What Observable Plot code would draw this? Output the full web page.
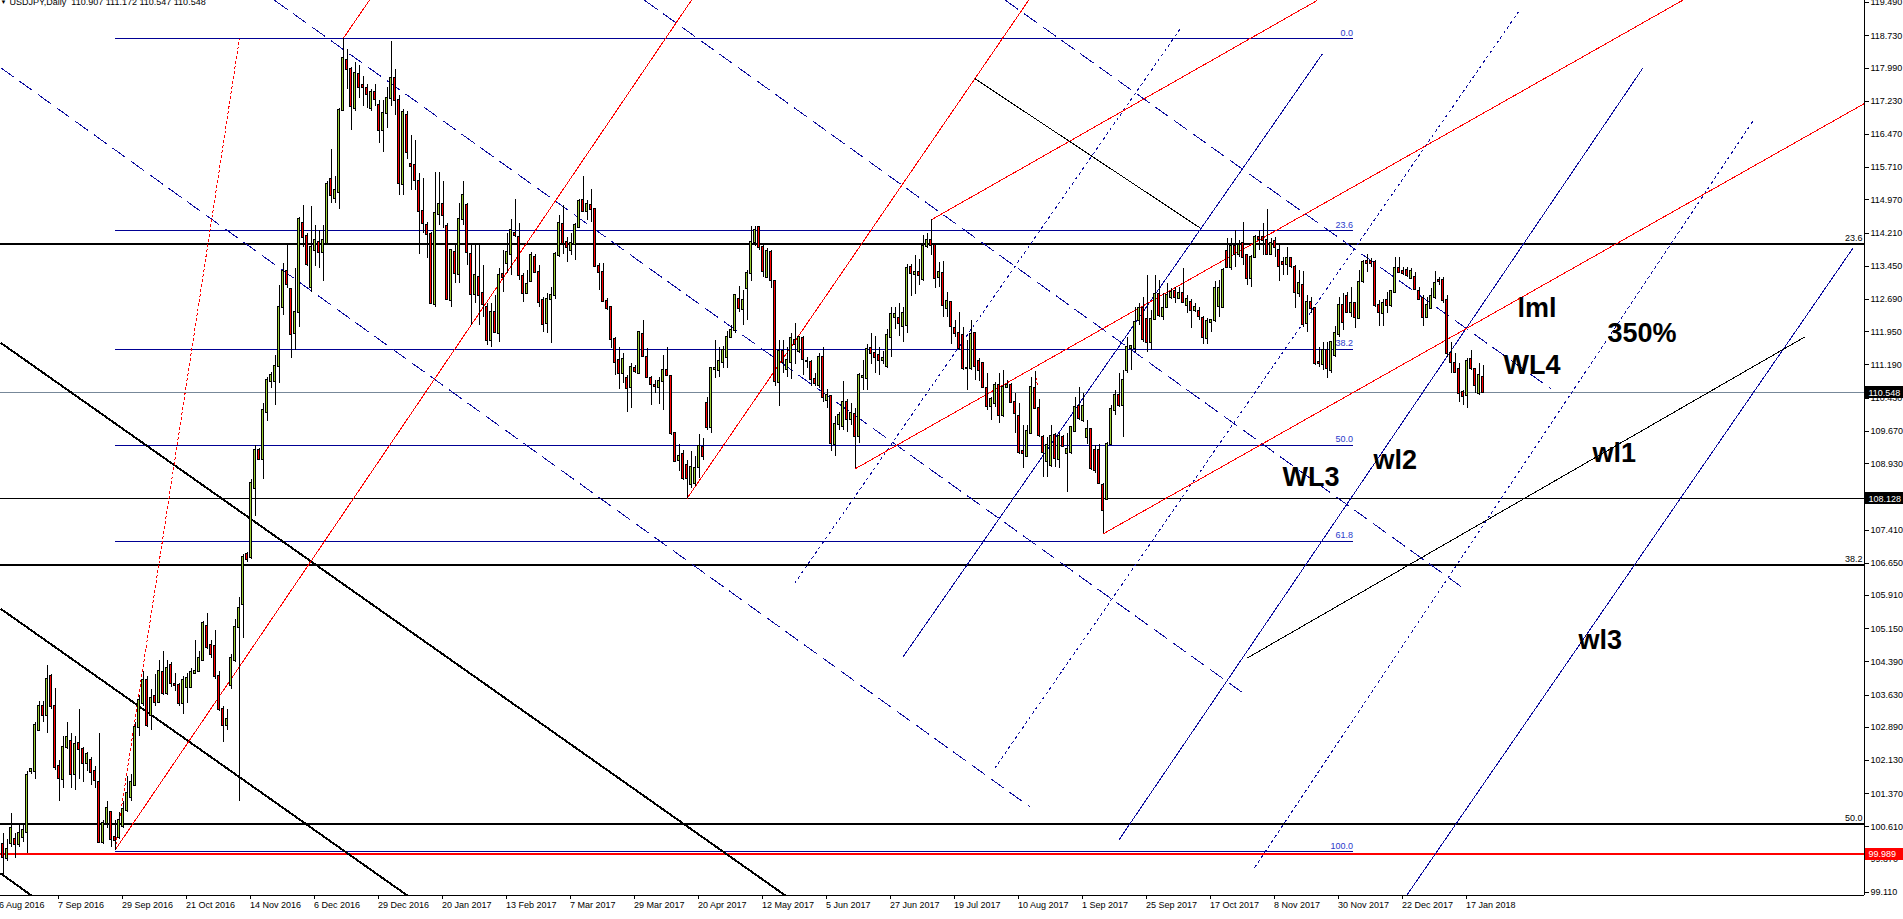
<!DOCTYPE html>
<html>
<head>
<meta charset="utf-8">
<title>USDJPY, Daily</title>
<script src="https://cdn.jsdelivr.net/npm/d3@7"></script>
<script src="https://cdn.jsdelivr.net/npm/@observablehq/plot@0.6"></script>
<style>
  html, body { margin: 0; padding: 0; background: #fff; overflow: hidden; }
  #chart svg { display: block; }
</style>
</head>
<body>
<div id="chart"></div>
<script>
// USDJPY daily candles, bar 0 = 16 Aug 2016 ... bar 370 = last bar
const opens = [
  100.20, 99.89, 100.24, 100.32, 100.20, 100.36, 100.49, 101.89, 101.88, 102.82,
  103.37, 103.16, 104.05, 103.37, 102.00, 101.69, 102.44, 102.57, 101.82, 102.53,
  102.38, 102.07, 102.13, 101.88, 101.63, 100.26, 100.70, 100.95, 100.38, 100.38,
  100.61, 100.98, 101.29, 101.57, 102.88, 103.43, 103.96, 103.16, 103.59, 103.46,
  104.15, 103.66, 104.30, 103.87, 103.84, 103.43, 103.81, 103.81, 104.12, 104.18,
  104.43, 105.20, 104.77, 104.74, 104.05, 103.31, 102.94, 103.84, 104.43, 105.18,
  105.71, 106.85, 106.77, 108.35, 109.22, 109.03, 110.09, 110.80, 110.80, 111.15,
  112.51, 113.32, 112.91, 111.92, 112.39, 114.44, 114.13, 112.97, 113.82, 114.00,
  113.76, 113.98, 115.44, 115.00, 115.15, 117.02, 118.17, 117.96, 117.06, 117.84,
  117.58, 117.52, 117.06, 117.43, 117.14, 116.56, 116.95, 117.30, 117.75, 117.25,
  115.32, 116.90, 115.78, 115.76, 115.38, 114.71, 114.38, 114.17, 112.57, 114.63,
  114.86, 114.36, 112.67, 113.76, 113.26, 114.52, 114.84, 113.73, 112.80, 113.20,
  112.82, 112.51, 111.75, 112.38, 111.90, 113.26, 113.52, 113.73, 114.21, 114.11,
  113.22, 112.82, 113.09, 113.64, 113.30, 112.67, 112.13, 112.68, 112.77, 113.70,
  114.40, 114.00, 113.81, 113.95, 114.34, 114.95, 114.71, 114.84, 114.74, 113.45,
  113.30, 112.64, 112.51, 111.77, 111.29, 110.99, 110.88, 110.67, 111.11, 111.00,
  111.89, 111.37, 110.89, 110.72, 110.68, 110.80, 111.06, 110.93, 109.61, 109.00,
  109.14, 108.89, 108.45, 108.47, 108.85, 109.31, 110.30, 109.75, 111.08, 111.06,
  111.25, 111.37, 111.83, 111.98, 112.70, 112.45, 112.93, 113.28, 114.00, 114.33,
  113.88, 113.20, 113.77, 113.10, 110.78, 111.50, 111.08, 111.25, 111.75, 111.50,
  111.79, 111.27, 111.25, 110.85, 110.72, 111.37, 110.37, 110.47, 109.38, 109.83,
  109.78, 110.33, 109.93, 110.05, 109.55, 110.90, 110.88, 111.56, 111.45, 111.40,
  111.30, 111.15, 111.83, 112.28, 112.25, 112.08, 112.10, 113.43, 113.26, 113.30,
  113.14, 113.90, 114.04, 113.93, 113.20, 113.28, 112.48, 112.61, 112.02, 111.92,
  111.86, 111.12, 111.10, 111.90, 111.28, 111.22, 110.64, 110.25, 110.30, 110.72,
  110.03, 110.68, 110.73, 110.32, 110.01, 109.20, 109.10, 109.63, 110.64, 110.19,
  109.54, 108.99, 108.89, 109.57, 109.02, 109.54, 109.17, 109.18, 109.67, 110.25,
  109.92, 109.54, 109.71, 109.23, 109.23, 108.43, 108.12, 109.37, 110.15, 110.49,
  110.26, 111.06, 111.56, 111.56, 112.21, 112.48, 112.23, 111.70, 112.22, 112.80,
  112.31, 112.51, 112.74, 112.88, 112.72, 112.82, 112.55, 112.61, 112.44, 112.42,
  112.25, 111.79, 112.17, 112.21, 112.53, 112.51, 113.79, 113.43, 113.90, 113.71,
  113.98, 113.70, 113.16, 113.64, 114.12, 114.12, 114.04, 113.72, 114.02, 113.81,
  113.54, 113.49, 113.63, 113.43, 112.82, 113.01, 112.13, 112.63, 112.48, 111.25,
  111.20, 111.51, 111.06, 111.41, 111.88, 112.55, 112.76, 112.40, 112.59, 112.26,
  113.09, 113.56, 113.56, 113.54, 112.55, 112.36, 112.67, 112.55, 112.86, 113.40,
  113.33, 113.35, 113.18, 113.20, 112.87, 112.72, 112.28, 112.48, 112.74, 113.13,
  113.13, 112.67, 111.45, 111.23, 111.08, 110.55, 110.49, 111.31, 111.08, 110.53,
  110.907
];
const highs = [
  100.47, 100.32, 100.91, 100.45, 100.64, 100.67, 101.88, 101.95, 103.00, 103.49,
  103.49, 104.30, 104.10, 103.78, 102.13, 102.69, 103.00, 102.75, 102.69, 103.31,
  102.44, 102.32, 102.19, 102.00, 102.75, 100.76, 101.20, 100.97, 100.76, 100.95,
  101.20, 101.76, 101.82, 103.00, 103.62, 104.18, 104.05, 103.75, 104.10, 104.43,
  104.62, 104.43, 104.37, 104.12, 103.90, 104.05, 104.12, 104.24, 104.87, 104.62,
  105.32, 105.49, 104.87, 105.12, 104.18, 103.37, 103.31, 104.55, 105.36, 105.86,
  106.85, 106.90, 108.56, 109.34, 109.28, 110.30, 110.90, 111.02, 111.40, 113.00,
  113.51, 113.95, 112.95, 113.39, 114.57, 114.85, 114.20, 114.82, 114.38, 114.26,
  114.38, 115.38, 116.12, 115.50, 117.06, 118.66, 118.42, 118.01, 118.11, 118.05,
  117.80, 117.62, 117.49, 117.62, 117.24, 117.25, 117.55, 118.60, 117.95, 117.35,
  117.05, 117.00, 116.45, 116.33, 115.57, 115.45, 114.46, 114.23, 115.60, 115.60,
  115.38, 114.42, 113.81, 113.96, 114.88, 115.38, 114.88, 113.98, 113.96, 113.96,
  113.47, 112.59, 112.59, 112.78, 113.39, 113.81, 114.19, 114.52, 114.97, 114.42,
  113.28, 113.35, 113.77, 113.73, 113.47, 112.74, 112.82, 112.97, 113.77, 114.61,
  114.84, 114.12, 114.19, 114.42, 114.97, 115.51, 114.95, 115.20, 114.77, 113.51,
  113.51, 112.71, 112.51, 111.81, 111.58, 111.45, 110.95, 111.22, 111.17, 111.94,
  112.21, 111.56, 110.93, 110.84, 110.91, 111.41, 111.60, 110.95, 109.65, 109.38,
  109.23, 109.00, 109.20, 109.10, 109.60, 109.50, 110.45, 111.14, 111.76, 111.60,
  111.62, 111.95, 112.10, 112.80, 112.98, 112.90, 113.35, 114.37, 114.37, 114.37,
  113.95, 113.85, 113.80, 113.10, 111.75, 111.75, 111.60, 111.90, 112.13, 111.85,
  111.85, 111.37, 111.30, 111.00, 111.45, 111.60, 110.62, 110.50, 110.00, 110.10,
  110.80, 110.40, 110.30, 110.20, 111.00, 111.30, 111.65, 111.90, 111.85, 111.60,
  111.50, 112.00, 112.50, 112.50, 112.60, 112.50, 113.48, 113.48, 113.70, 113.60,
  114.15, 114.20, 114.51, 113.96, 113.54, 113.57, 112.86, 112.63, 112.21, 112.40,
  112.05, 111.75, 112.21, 111.94, 111.33, 111.25, 110.99, 110.45, 110.79, 110.99,
  111.06, 110.83, 110.76, 110.53, 110.30, 109.80, 109.80, 110.91, 111.03, 110.41,
  109.57, 109.53, 109.80, 109.61, 109.61, 109.57, 109.61, 109.78, 110.45, 110.68,
  110.53, 109.92, 109.73, 109.35, 109.38, 108.47, 109.42, 110.26, 110.60, 110.99,
  111.06, 111.83, 111.64, 112.51, 112.60, 112.74, 113.24, 112.44, 113.24, 113.12,
  112.82, 113.05, 112.93, 112.97, 112.97, 113.39, 112.78, 112.70, 112.59, 112.51,
  112.29, 112.25, 112.23, 113.09, 113.13, 113.39, 114.08, 114.08, 114.27, 114.04,
  114.46, 113.73, 113.70, 114.15, 114.27, 114.42, 114.74, 114.08, 114.12, 113.93,
  113.66, 113.89, 113.66, 113.47, 113.35, 113.32, 112.78, 112.74, 112.51, 111.60,
  111.71, 111.71, 111.71, 112.06, 112.74, 112.82, 112.86, 112.97, 112.63, 113.35,
  113.58, 113.73, 113.62, 113.58, 112.67, 112.70, 112.86, 112.90, 113.66, 113.66,
  113.43, 113.43, 113.39, 113.31, 112.97, 112.78, 112.74, 112.93, 113.32, 113.20,
  113.20, 112.78, 111.71, 111.45, 111.22, 110.61, 111.33, 111.52, 111.10, 111.22,
  111.172
];
const lows = [
  99.52, 99.83, 100.14, 99.89, 100.14, 100.26, 100.01, 101.82, 101.70, 102.80,
  103.00, 102.75, 103.30, 101.90, 101.19, 101.50, 102.38, 101.50, 101.44, 101.69,
  101.63, 101.88, 101.57, 101.50, 100.24, 100.20, 100.57, 100.14, 100.08, 100.32,
  100.57, 100.95, 101.20, 101.53, 102.69, 103.37, 102.88, 102.82, 103.37, 103.43,
  103.62, 103.62, 103.80, 103.71, 103.37, 103.18, 103.43, 103.78, 104.10, 104.18,
  104.40, 104.68, 104.46, 103.99, 103.25, 102.54, 102.82, 103.75, 104.37, 101.19,
  104.93, 106.67, 106.73, 107.73, 109.00, 108.56, 109.90, 110.65, 110.27, 110.77,
  112.33, 112.95, 111.33, 111.52, 112.04, 113.88, 113.45, 112.85, 113.45, 113.39,
  113.11, 113.95, 114.88, 114.88, 114.75, 117.00, 117.49, 116.56, 116.99, 117.30,
  117.12, 117.06, 116.99, 117.12, 116.25, 116.05, 116.60, 117.10, 116.90, 115.07,
  115.07, 115.90, 115.18, 115.18, 113.73, 114.19, 113.62, 112.59, 112.51, 114.38,
  114.31, 112.67, 112.51, 113.05, 113.05, 114.38, 113.47, 112.09, 112.60, 112.09,
  112.28, 111.64, 111.60, 111.90, 111.71, 112.86, 113.28, 113.24, 114.12, 113.13,
  112.61, 112.82, 113.09, 113.28, 112.51, 111.94, 111.92, 111.69, 112.70, 113.66,
  113.73, 113.54, 113.70, 113.58, 114.31, 114.69, 114.50, 114.46, 113.43, 112.90,
  112.63, 112.44, 111.56, 110.95, 110.62, 110.76, 110.11, 110.19, 110.99, 110.99,
  111.37, 110.87, 110.26, 110.53, 110.28, 110.15, 110.93, 109.58, 108.96, 108.74,
  108.54, 108.13, 108.35, 108.40, 108.60, 109.00, 109.69, 109.61, 110.87, 110.90,
  111.10, 111.10, 111.80, 111.90, 112.40, 112.10, 112.20, 113.10, 113.90, 113.80,
  113.20, 113.18, 112.93, 110.70, 110.23, 111.00, 110.90, 110.85, 111.20, 111.45,
  110.95, 111.10, 110.70, 110.70, 110.65, 110.34, 110.20, 109.20, 109.10, 109.70,
  109.70, 109.65, 109.80, 108.81, 109.40, 110.60, 110.60, 111.20, 111.00, 110.95,
  111.20, 111.10, 111.35, 112.00, 111.85, 111.70, 111.90, 112.75, 112.80, 113.00,
  113.09, 113.85, 113.70, 112.93, 112.97, 112.28, 112.28, 111.67, 111.83, 111.52,
  111.06, 110.61, 111.06, 110.83, 110.80, 110.66, 110.15, 109.92, 110.22, 109.84,
  109.99, 110.64, 110.30, 109.61, 109.15, 108.81, 109.08, 109.61, 110.17, 109.54,
  108.62, 108.62, 108.85, 108.85, 108.81, 109.31, 108.28, 109.15, 109.65, 109.92,
  109.88, 109.38, 108.77, 108.70, 108.45, 107.32, 108.10, 109.35, 110.03, 110.22,
  109.54, 110.99, 111.06, 111.48, 112.10, 111.71, 111.48, 111.51, 112.21, 112.28,
  112.21, 112.48, 112.68, 112.59, 112.70, 112.59, 112.36, 112.02, 112.40, 112.21,
  111.67, 111.66, 111.94, 112.17, 112.28, 112.48, 113.39, 113.35, 113.43, 113.66,
  113.47, 113.01, 112.97, 113.62, 113.81, 113.70, 113.70, 113.70, 113.66, 113.09,
  113.24, 113.24, 113.39, 112.48, 112.74, 112.05, 111.94, 112.36, 111.18, 111.14,
  111.06, 110.87, 110.99, 111.37, 111.83, 111.98, 112.36, 112.28, 112.02, 112.25,
  113.05, 113.31, 113.43, 112.51, 112.06, 112.06, 112.36, 112.51, 112.82, 113.28,
  113.24, 113.20, 113.16, 112.90, 112.67, 112.06, 112.25, 112.48, 112.70, 113.01,
  112.59, 111.37, 110.99, 110.99, 110.33, 110.26, 110.19, 111.06, 110.53, 110.49,
  110.547
];
const closes = [
  99.90, 100.10, 100.58, 100.20, 100.45, 100.54, 101.79, 101.93, 102.94, 103.37,
  103.16, 103.99, 103.37, 101.97, 101.72, 102.44, 102.65, 101.82, 102.50, 102.38,
  102.07, 102.28, 101.86, 101.67, 100.26, 100.70, 101.03, 100.32, 100.30, 100.76,
  101.01, 101.38, 101.63, 102.88, 103.50, 103.96, 102.94, 103.56, 103.46, 104.18,
  103.66, 104.23, 103.90, 103.84, 103.43, 103.96, 104.02, 104.15, 104.18, 104.46,
  105.27, 104.71, 104.55, 104.05, 103.31, 102.94, 103.06, 104.46, 105.18, 105.61,
  106.79, 106.73, 108.47, 109.22, 109.03, 110.15, 110.83, 110.96, 111.15, 112.51,
  113.32, 113.04, 111.89, 112.39, 114.51, 114.11, 113.49, 113.88, 114.03, 113.76,
  114.03, 115.32, 115.07, 115.19, 117.02, 118.20, 117.96, 117.12, 117.86, 117.55,
  117.55, 117.39, 117.43, 117.28, 116.56, 116.95, 117.30, 117.75, 117.25, 115.34,
  116.96, 116.06, 115.74, 115.41, 114.71, 114.42, 114.17, 112.60, 114.65, 114.86,
  114.61, 112.70, 113.81, 113.28, 114.52, 115.07, 113.77, 112.80, 113.25, 112.78,
  112.57, 111.75, 112.38, 111.94, 113.24, 113.20, 113.76, 114.27, 114.16, 113.24,
  112.82, 113.03, 113.69, 113.31, 112.63, 112.11, 112.70, 112.77, 113.73, 114.42,
  113.98, 113.89, 113.98, 114.38, 114.93, 114.71, 114.86, 114.74, 113.45, 113.30,
  112.64, 112.48, 111.77, 111.25, 110.99, 111.31, 110.65, 111.13, 111.03, 111.94,
  111.39, 110.91, 110.74, 110.69, 110.82, 111.06, 110.94, 109.61, 108.99, 109.09,
  108.58, 108.58, 108.85, 108.81, 109.32, 109.10, 109.75, 111.10, 111.12, 111.27,
  111.52, 111.83, 111.99, 112.78, 112.48, 112.66, 113.28, 114.00, 114.28, 113.88,
  113.34, 113.78, 113.12, 110.80, 111.50, 111.25, 111.29, 111.79, 111.67, 111.83,
  111.31, 111.27, 110.85, 110.76, 111.37, 110.45, 110.49, 109.40, 109.83, 110.03,
  110.33, 109.93, 110.08, 109.55, 110.95, 110.92, 111.55, 111.45, 111.37, 111.29,
  111.33, 111.86, 112.35, 112.34, 112.15, 112.36, 113.41, 113.28, 113.30, 113.25,
  113.90, 114.04, 113.93, 113.16, 113.30, 112.55, 112.64, 112.06, 111.92, 111.56,
  111.12, 111.10, 111.89, 111.15, 111.06, 110.68, 110.24, 110.41, 110.73, 110.03,
  110.68, 110.73, 110.32, 110.07, 109.19, 109.17, 109.67, 110.67, 110.19, 109.57,
  109.19, 109.35, 109.55, 109.04, 109.56, 109.32, 109.25, 109.76, 110.22, 109.97,
  110.25, 109.71, 108.81, 108.77, 108.47, 107.86, 109.38, 110.16, 110.49, 110.26,
  110.83, 111.60, 111.62, 112.17, 112.48, 111.77, 111.70, 112.23, 112.80, 112.32,
  112.48, 112.78, 112.86, 112.74, 112.82, 112.61, 112.68, 112.44, 112.51, 112.29,
  111.83, 112.19, 112.21, 112.93, 112.93, 113.35, 113.43, 113.90, 113.72, 113.93,
  113.66, 113.16, 113.64, 114.12, 114.06, 114.05, 113.72, 113.98, 113.87, 113.44,
  113.49, 113.63, 113.45, 112.86, 113.05, 112.11, 112.63, 112.48, 111.22, 111.22,
  111.51, 111.10, 111.71, 111.92, 112.55, 112.17, 112.40, 112.59, 112.28, 113.07,
  113.54, 113.52, 113.52, 112.55, 112.40, 112.59, 112.55, 112.87, 113.39, 113.31,
  113.28, 113.24, 113.33, 112.91, 112.70, 112.28, 112.55, 112.76, 113.05, 113.09,
  112.67, 111.45, 111.25, 111.01, 110.54, 110.47, 111.28, 111.10, 110.72, 110.95,
  110.548
];

// time axis: one label every 16 bars
const tickBars = [-2.5, 13.5, 29.5, 45.5, 61.5, 77.5, 93.5, 109.5, 125.5, 141.5, 157.5, 173.5,
  189.5, 205.5, 221.5, 237.5, 253.5, 269.5, 285.5, 301.5, 317.5, 333.5, 349.5, 365.5];
const tickDates = ["16 Aug 2016", "7 Sep 2016", "29 Sep 2016", "21 Oct 2016", "14 Nov 2016", "6 Dec 2016",
  "29 Dec 2016", "20 Jan 2017", "13 Feb 2017", "7 Mar 2017", "29 Mar 2017", "20 Apr 2017",
  "12 May 2017", "5 Jun 2017", "27 Jun 2017", "19 Jul 2017", "10 Aug 2017", "1 Sep 2017",
  "25 Sep 2017", "17 Oct 2017", "8 Nov 2017", "30 Nov 2017", "22 Dec 2017", "17 Jan 2018"];

// price axis
const priceTicks = [119.49, 118.73, 117.99, 117.23, 116.47, 115.71, 114.97, 114.21, 113.45, 112.69,
  111.95, 111.19, 110.43, 109.67, 108.93, 108.17, 107.41, 106.65, 105.91, 105.15, 104.39,
  103.63, 102.89, 102.13, 101.37, 100.61, 99.87, 99.11];
const xDomain = [-0.625, 465.375];
const yDomain = [99.041, 119.536];

// horizontal levels
const bidPrice = 110.548;
const supportLevel = 108.128;
const redLevel = 99.989;

// blue fibonacci (Sep 2016 low -> Dec 2016 high), drawn from bar 28 to bar 337.5
const fibLevels = [0, 23.6, 38.2, 50, 61.8, 100];
const fibTop = 118.66, fibBottom = 100.04;
const fibBars = [28, 337.5];

// long-term fibonacci (black), levels in view
const bigFibLevels = [23.6, 38.2, 50];
const bigFibTop = 125.82, bigFibBottom = 75.55;

// trend lines as [bar1, price1, bar2, price2]
const blueSolid = [
  [224.9, 104.49, 329.9, 118.32],
  [278.9, 100.30, 409.9, 117.98],
  [350.9, 99.04, 462.6, 113.88]
];
const blueDotted = [
  [312.9, 99.68, 437.6, 116.79],
  [247.9, 101.95, 378.9, 119.28],
  [197.9, 106.19, 294.4, 118.90]
];
const blueDashed = [
  [-0.625, 118.00, 256.9, 101.06],
  [67.9, 119.54, 310.9, 103.62],
  [160.4, 119.54, 364.9, 106.09],
  [250.6, 119.54, 386.9, 110.65]
];
const redSolid = [
  [28, 100.08, 172.1, 119.54],
  [85, 118.66, 91.6, 119.54],
  [171, 108.13, 256.4, 119.54],
  [213, 108.81, 419.9, 119.54],
  [232, 114.51, 328.6, 119.54],
  [275, 107.32, 465.4, 117.18]
];
const redDotted = [
  [28, 100.08, 59.1, 118.66],
  [258.0, 111.02, 258.7, 110.68]
];
const blackThin = [
  [242.9, 117.75, 299.4, 114.32],
  [310.9, 104.47, 450.6, 111.84]
];
const blackThick = [
  [-0.625, 111.70, 195.6, 99.04],
  [-0.625, 105.61, 101.1, 99.04],
  [-0.625, 99.55, 7.1, 99.04]
];

// chart annotations (left edge bar, price at text centre)
const noteText = ["lml", "350%", "WL4", "WL3", "wl2", "wl1", "wl3"];
const noteBar = [378.6, 401.1, 375.1, 319.9, 342.6, 397.4, 393.9];
const notePrice = [112.48, 111.92, 111.18, 108.62, 109.00, 109.17, 104.88];

const header = "USDJPY,Daily  110.907 111.172 110.547 110.548";

// ---- build ----
const bars = closes.map((c, i) => ({k: i, open: opens[i], high: highs[i], low: lows[i], close: c}));
const seg = a => ({k1: a[0], p1: a[1], k2: a[2], p2: a[3]});
const fibPrice = lv => fibTop - (fibTop - fibBottom) * lv / 100;
const bigFibPrice = lv => bigFibTop - (bigFibTop - bigFibBottom) * lv / 100;
const notes = noteText.map((t, i) => ({text: t, k: noteBar[i], price: notePrice[i]}));
const dateByBar = new Map(tickBars.map((b, i) => [b, tickDates[i]]));

const BLUE = "#0c0c9e";
const NAVY = "#000094";
const FIBTXT = "#2a3acb";
const BULL = "#9acd32";
const BEAR = "#ff0000";
const xMax = xDomain[1];

const linkOpts = {x1: "k1", y1: "p1", x2: "k2", y2: "p2", clip: true};

const chart = Plot.plot({
  width: 1903,
  height: 919,
  marginTop: 0,
  marginRight: 39,
  marginBottom: 24,
  marginLeft: 0,
  x: {domain: xDomain, axis: null},
  y: {domain: yDomain, axis: null},
  style: {
    fontFamily: "'Liberation Sans', Arial, sans-serif",
    fontSize: "9px",
    background: "#ffffff",
    color: "#000"
  },
  marks: [
    // horizontal levels
    Plot.ruleY(bigFibLevels.map(bigFibPrice), {stroke: "#000", strokeWidth: 2}),
    Plot.ruleY(fibLevels.map(fibPrice), {x1: () => fibBars[0], x2: () => fibBars[1], stroke: NAVY, strokeWidth: 1}),
    Plot.ruleY([supportLevel], {stroke: "#000", strokeWidth: 1}),
    Plot.ruleY([bidPrice], {stroke: "#778899", strokeWidth: 1}),
    Plot.ruleY([redLevel], {stroke: "#ff0000", strokeWidth: 2}),

    // trend lines / channels
    Plot.link(blackThick.map(seg), {...linkOpts, stroke: "#000", strokeWidth: 2}),
    Plot.link(blueDashed.map(seg), {...linkOpts, stroke: BLUE, strokeWidth: 1, strokeDasharray: "16,7"}),
    Plot.link(blueDotted.map(seg), {...linkOpts, stroke: BLUE, strokeWidth: 1, strokeDasharray: "3,3"}),
    Plot.link(blueSolid.map(seg), {...linkOpts, stroke: BLUE, strokeWidth: 1}),
    Plot.link(redSolid.map(seg), {...linkOpts, stroke: "#ff0000", strokeWidth: 1}),
    Plot.link(redDotted.map(seg), {...linkOpts, stroke: "#ff0000", strokeWidth: 1, strokeDasharray: "3,2"}),
    Plot.link(blackThin.map(seg), {...linkOpts, stroke: "#000", strokeWidth: 1}),

    // fib labels
    Plot.text(fibLevels, {x: () => fibBars[1], y: fibPrice, text: d => d.toFixed(1),
      textAnchor: "end", dy: -6, fill: FIBTXT, fontSize: 9}),
    Plot.text(bigFibLevels, {x: () => xMax, y: bigFibPrice, text: d => d.toFixed(1),
      textAnchor: "end", dx: -2, dy: -6, fill: "#000", fontSize: 9}),

    // candles
    Plot.ruleX(bars, {x: "k", y1: "low", y2: "high", stroke: "#000", strokeWidth: 1}),
    Plot.rect(bars, {
      x1: d => d.k - 0.25, x2: d => d.k + 0.25, y1: "open", y2: "close",
      insetTop: -0.5, insetBottom: -0.5,
      fill: d => d.close >= d.open ? BULL : BEAR, stroke: "#000", strokeWidth: 1
    }),

    // annotations
    Plot.text(notes, {x: "k", y: "price", text: "text", textAnchor: "start",
      fontSize: 27, fontWeight: "bold", fill: "#000"}),

    // axes
    Plot.ruleY([yDomain[0]], {stroke: "#000"}),
    Plot.ruleX([xMax], {stroke: "#000"}),
    Plot.axisY(priceTicks, {anchor: "right", tickSize: 4, tickPadding: 2, label: null,
      tickFormat: d => d.toFixed(3), fontSize: 9}),
    Plot.axisX(tickBars, {anchor: "bottom", tickSize: 4, tickPadding: 2, label: null,
      tickFormat: d => dateByBar.get(d), textAnchor: "start", dx: 1, fontSize: 9}),

    // price tags on the scale
    Plot.rect([bidPrice, supportLevel], {x1: () => xMax, x2: () => xMax, y1: d => d, y2: d => d,
      insetLeft: 1, insetRight: -39, insetTop: -6, insetBottom: -6, fill: "#000"}),
    Plot.rect([redLevel], {x1: () => xMax, x2: () => xMax, y1: d => d, y2: d => d,
      insetLeft: 1, insetRight: -39, insetTop: -6, insetBottom: -6, fill: "#ff0000"}),
    Plot.text([bidPrice, supportLevel, redLevel], {x: () => xMax, y: d => d, text: d => d.toFixed(3),
      textAnchor: "start", dx: 4, fill: "#fff", fontSize: 9}),

    // header
    Plot.text(["\u25BC"], {frameAnchor: "top-left", dx: 0, dy: -1, lineAnchor: "top", textAnchor: "start", fontSize: 6}),
    Plot.text([header], {frameAnchor: "top-left", dx: 9, dy: -2, lineAnchor: "top", textAnchor: "start", fontSize: 9})
  ]
});

chart.setAttribute("shape-rendering", "crispEdges");
document.getElementById("chart").appendChild(chart);
</script>
</body>
</html>
